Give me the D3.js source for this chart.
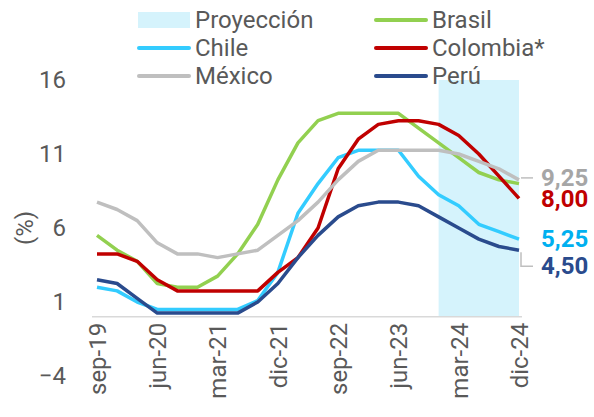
<!DOCTYPE html>
<html>
<head>
<meta charset="utf-8">
<script src="https://cdn.jsdelivr.net/npm/d3@7"></script>
<style>
  body { margin: 0; background: #fff; }
  text { font-family: Roboto, "Noto Sans", sans-serif; }
</style>
</head>
<body>
<div id="chart"></div>
<script>
// Quarterly policy rates (%), sep-19 .. dic-24
var quarters = ["sep-19", "dic-19", "mar-20", "jun-20", "sep-20", "dic-20", "mar-21", "jun-21",
  "sep-21", "dic-21", "mar-22", "jun-22", "sep-22", "dic-22", "mar-23", "jun-23",
  "sep-23", "dic-23", "mar-24", "jun-24", "sep-24", "dic-24"];

var brasil = [5.5, 4.5, 3.75, 2.25, 2.0, 2.0, 2.75, 4.25, 6.25, 9.25, 11.75, 13.25, 13.75, 13.75,
  13.75, 13.75, 12.75, 11.75, 10.75, 9.75, 9.25, 9.0];
var chile = [2.0, 1.75, 1.0, 0.5, 0.5, 0.5, 0.5, 0.5, 1.1, 3.0, 7.0, 9.0, 10.75, 11.25,
  11.25, 11.25, 9.5, 8.25, 7.5, 6.25, 5.75, 5.25];
var colombia = [4.25, 4.25, 3.75, 2.5, 1.75, 1.75, 1.75, 1.75, 1.75, 3.0, 4.0, 6.0, 10.0, 12.0,
  13.0, 13.25, 13.25, 13.0, 12.25, 11.0, 9.5, 8.0];
var mexico = [7.75, 7.25, 6.5, 5.0, 4.25, 4.25, 4.0, 4.25, 4.5, 5.5, 6.5, 7.75, 9.25, 10.5,
  11.25, 11.25, 11.25, 11.25, 11.0, 10.5, 10.0, 9.25];
var peru = [2.5, 2.25, 1.25, 0.25, 0.25, 0.25, 0.25, 0.25, 1.0, 2.25, 4.0, 5.5, 6.75, 7.5,
  7.75, 7.75, 7.5, 6.75, 6.0, 5.25, 4.75, 4.5];

// projection window (first and last quarter)
var projection = ["dic-23", "dic-24"];

// axis ticks
var yTicks = [-4, 1, 6, 11, 16];
var xTickLabels = ["sep-19", "jun-20", "mar-21", "dic-21", "sep-22", "jun-23", "mar-24", "dic-24"];

var series = [
  { name: "Brasil", values: brasil, color: "#92D050" },
  { name: "Chile", values: chile, color: "#33CCFF" },
  { name: "Colombia*", values: colombia, color: "#C00000" },
  { name: "México", values: mexico, color: "#BFBFBF" },
  { name: "Perú", values: peru, color: "#2A4B8D" }
];

// end labels
var endLabels = [
  { text: "9,25", color: "#A6A6A6", y: 186 },
  { text: "8,00", color: "#C00000", y: 207 },
  { text: "5,25", color: "#00B0F0", y: 247 },
  { text: "4,50", color: "#2A4B8D", y: 274 }
];

var svgWidth = 594;
var svgHeight = 417;
var textColor = "#595959";

var svg = d3.select("#chart")
  .append("svg")
  .attr("width", svgWidth)
  .attr("height", svgHeight);

// Scales
var xScale = d3.scalePoint()
  .domain(quarters)
  .range([97, 519]);

var yScale = d3.scaleLinear()
  .domain([-4, 16])
  .range([376, 80]);

// Projection band
svg.append("rect")
  .attr("x", xScale(projection[0]))
  .attr("y", yScale(16))
  .attr("width", xScale(projection[1]) - xScale(projection[0]))
  .attr("height", yScale(0) - yScale(16))
  .attr("fill", "#D5F3FC");

// Y axis (labels only)
var yAxis = d3.axisLeft(yScale)
  .tickValues(yTicks)
  .tickSize(0)
  .tickPadding(0);

var yAxisG = svg.append("g")
  .attr("transform", "translate(66,0)")
  .call(yAxis);
yAxisG.select(".domain").remove();
yAxisG.selectAll("text")
  .attr("fill", textColor)
  .attr("font-size", "24px")
  .style("font-family", "Roboto, sans-serif");

// X axis at zero
var xAxis = d3.axisBottom(xScale)
  .tickValues(xTickLabels)
  .tickSize(0)
  .tickPadding(0);

var xAxisG = svg.append("g")
  .attr("transform", `translate(0, ${yScale(0)})`)
  .call(xAxis);
xAxisG.select(".domain")
  .attr("d", "M-5,0H3")
  .attr("transform", `translate(${xScale(quarters[0])},0)`)
  .remove();
svg.append("line")
  .attr("x1", 92)
  .attr("x2", 522)
  .attr("y1", yScale(0))
  .attr("y2", yScale(0))
  .attr("stroke", "#D9D9D9")
  .attr("stroke-width", 1.5);
xAxisG.selectAll("text")
  .attr("fill", textColor)
  .attr("font-size", "24px")
  .style("font-family", "Roboto, sans-serif")
  .attr("text-anchor", "end")
  .attr("transform", "translate(0,6) rotate(-90)")
  .attr("x", 0)
  .attr("y", 0)
  .attr("dy", "0.35em");

// Y axis title
svg.append("text")
  .attr("transform", "translate(25,228) rotate(-90)")
  .attr("text-anchor", "middle")
  .attr("dy", "0.35em")
  .attr("fill", textColor)
  .attr("font-size", "24px")
  .text("(%)");

// Lines
var line = d3.line()
  .x((d, i) => xScale(quarters[i]))
  .y(d => yScale(d));

svg.selectAll(".series")
  .data(series)
  .enter()
  .append("path")
  .attr("class", "series")
  .attr("d", d => line(d.values))
  .attr("fill", "none")
  .attr("stroke", d => d.color)
  .attr("stroke-width", 3.5)
  .attr("stroke-linejoin", "round");

// Leader lines for end labels
var xEnd = xScale(quarters[quarters.length - 1]);
svg.append("path")
  .attr("d", `M${xEnd + 2},${yScale(mexico[21]) - 2}H${xEnd + 14}`)
  .attr("fill", "none")
  .attr("stroke", "#BFBFBF")
  .attr("stroke-width", 1.5);
svg.append("path")
  .attr("d", `M${xEnd + 2},${yScale(peru[21]) + 2}V${yScale(peru[21]) + 16}H${xEnd + 14}`)
  .attr("fill", "none")
  .attr("stroke", "#BFBFBF")
  .attr("stroke-width", 1.5);

svg.selectAll(".endLabel")
  .data(endLabels)
  .enter()
  .append("text")
  .attr("class", "endLabel")
  .attr("x", 541)
  .attr("y", d => d.y)
  .attr("fill", d => d.color)
  .attr("font-size", "24px")
  .attr("font-weight", "bold")
  .text(d => d.text);

// Legend
var legendItems = [
  { name: "Proyección", color: "#D5F3FC", type: "rect", x: 138, y: 20 },
  { name: "Brasil", color: "#92D050", type: "line", x: 375, y: 20 },
  { name: "Chile", color: "#33CCFF", type: "line", x: 138, y: 48 },
  { name: "Colombia*", color: "#C00000", type: "line", x: 375, y: 48 },
  { name: "México", color: "#BFBFBF", type: "line", x: 138, y: 76 },
  { name: "Perú", color: "#2A4B8D", type: "line", x: 375, y: 76 }
];

var legend = svg.selectAll(".legend")
  .data(legendItems)
  .enter()
  .append("g")
  .attr("class", "legend")
  .attr("transform", d => `translate(${d.x}, ${d.y})`);

legend.filter(d => d.type === "rect")
  .append("rect")
  .attr("x", 0)
  .attr("y", -8)
  .attr("width", 52)
  .attr("height", 16)
  .attr("fill", d => d.color);

legend.filter(d => d.type === "line")
  .append("line")
  .attr("x1", 1)
  .attr("x2", 51)
  .attr("y1", 0)
  .attr("y2", 0)
  .attr("stroke", d => d.color)
  .attr("stroke-width", 4)
  .attr("stroke-linecap", "round");

legend.append("text")
  .attr("x", 57)
  .attr("y", 0)
  .attr("dy", "0.35em")
  .attr("fill", textColor)
  .attr("font-size", "24px")
  .text(d => d.name);
</script>
</body>
</html>
